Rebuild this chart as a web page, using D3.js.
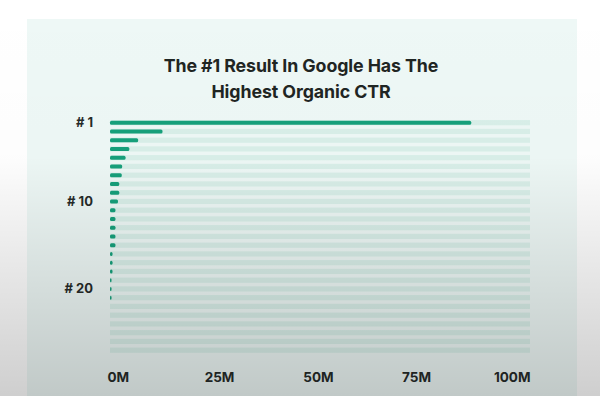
<!DOCTYPE html>
<html>
<head>
<meta charset="utf-8">
<script src="https://cdn.jsdelivr.net/npm/d3@7"></script>
<style>
  html, body { margin: 0; padding: 0; background: #fff; }
  svg { display: block; font-family: Inter, "Noto Sans", sans-serif; }
</style>
</head>
<body>
<div id="chart"></div>
<script>
// clicks per ranking position, in millions
const ranks = d3.range(1, 28);
const clicks = [86, 12.5, 6.7, 4.6, 3.7, 2.9, 2.8, 2.2, 2.2, 1.9,
                1.3, 1.3, 1.3, 1.3, 1.3, 0.6, 0.6, 0.6, 0.35, 0.3,
                0.25, 0, 0, 0, 0, 0, 0];
const rankTicks = [1, 10, 20];
const xTicks = [0, 25, 50, 75, 100];
const title = ['The #1 Result In Google Has The', 'Highest Organic CTR'];

const width = 600;
const height = 396;

const svg = d3.select('#chart')
    .append('svg')
    .attr('width', width)
    .attr('height', height);

// card
svg.append('rect')
    .attr('x', 27)
    .attr('y', 19)
    .attr('width', 550)
    .attr('height', height)
    .attr('fill', '#eef8f6');

svg.selectAll('.title')
    .data(title)
    .enter()
    .append('text')
    .attr('x', 301)
    .attr('y', (d, i) => 72 + i * 26)
    .attr('text-anchor', 'middle')
    .attr('fill', '#1f2523')
    .style('font-size', '17.8px')
    .style('font-weight', 700)
    .style('letter-spacing', '-0.1px')
    .text(d => d);

const xScale = d3.scaleLinear()
    .domain([0, 100])
    .range([110, 530]);

const yScale = d3.scaleBand()
    .domain(ranks)
    .range([118.3, 118.3 + ranks.length * 8.75]);

const rows = ranks.map((r, i) => ({ rank: r, val: clicks[i] }));
const cy = d => yScale(d.rank) + yScale.bandwidth() / 2;

svg.selectAll('.track')
    .data(rows)
    .enter()
    .append('rect')
    .classed('track', true)
    .attr('x', xScale(0))
    .attr('y', d => cy(d) - 2.6)
    .attr('width', xScale(100) - xScale(0))
    .attr('height', 5.2)
    .attr('fill', '#d9efe9');

svg.selectAll('.bar')
    .data(rows.filter(d => d.val > 0))
    .enter()
    .append('rect')
    .classed('bar', true)
    .attr('x', xScale(0))
    .attr('y', d => cy(d) - 2)
    .attr('width', d => Math.max(1.5, xScale(d.val) - xScale(0)))
    .attr('height', 4)
    .attr('rx', 1.5)
    .attr('fill', '#16a07b');

const yAxis = d3.axisLeft(yScale)
    .tickValues(rankTicks)
    .tickSize(0)
    .tickPadding(0)
    .tickFormat(d => '# ' + d);

svg.append('g')
    .attr('transform', 'translate(93,0)')
    .call(yAxis)
    .call(g => g.select('.domain').remove())
    .selectAll('text')
    .attr('fill', '#262b29')
    .style('font-family', 'Inter, sans-serif')
    .style('font-size', '13px')
    .style('font-weight', 700);

const xAxis = d3.axisBottom(xScale)
    .tickValues(xTicks)
    .tickSize(0)
    .tickPadding(0)
    .tickFormat(d => d + 'M');

svg.append('g')
    .attr('transform', 'translate(0,372)')
    .call(xAxis)
    .call(g => g.select('.domain').remove())
    .selectAll('text')
    .attr('fill', '#262b29')
    .attr('text-anchor', (d, i) => i === 0 ? 'start' : i === xTicks.length - 1 ? 'end' : 'middle')
    .attr('dx', (d, i) => [-3, 4, -2, -9, 0][i])
    .style('font-family', 'Inter, sans-serif')
    .style('font-size', '13.5px')
    .style('font-weight', 700);

// video shade over the lower half
const grad = svg.append('defs')
    .append('linearGradient')
    .attr('id', 'shade')
    .attr('x1', 0).attr('y1', 0)
    .attr('x2', 0).attr('y2', 1);
grad.append('stop').attr('offset', '0%').attr('stop-color', '#000').attr('stop-opacity', 0);
grad.append('stop').attr('offset', '40%').attr('stop-color', '#000').attr('stop-opacity', 0.01);
grad.append('stop').attr('offset', '70%').attr('stop-color', '#000').attr('stop-opacity', 0.1);
grad.append('stop').attr('offset', '100%').attr('stop-color', '#000').attr('stop-opacity', 0.19);

svg.append('rect')
    .attr('x', 0)
    .attr('y', 0)
    .attr('width', width)
    .attr('height', height)
    .attr('fill', 'url(#shade)')
    .style('pointer-events', 'none');
</script>
</body>
</html>
